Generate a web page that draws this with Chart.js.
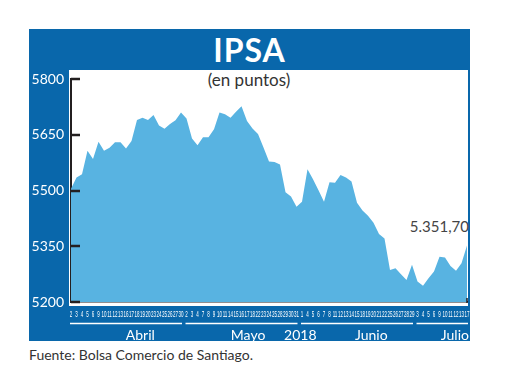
<!DOCTYPE html>
<html>
<head>
<meta charset="utf-8">
<script src="https://cdn.jsdelivr.net/npm/chart.js@4.4.1/dist/chart.umd.min.js"></script>
<style>
body{margin:0;background:#fff;font-family:Lato,"Open Sans",sans-serif}
#wrap{position:relative;width:520px;height:390px;overflow:hidden}
#frame{position:absolute;left:29px;top:29px;width:441px;height:312px;background:#0967ab}
#plot{position:absolute;left:69px;top:70px;width:399px;height:236px;background:#fff}
#title{position:absolute;left:29px;top:29px;width:441px;text-align:center;color:#fff;font-weight:700;font-size:32px;line-height:41px;letter-spacing:1px}
#sub{position:absolute;left:69px;top:69px;width:360px;text-align:center;font-size:17px;color:#333;line-height:22px}
#last{position:absolute;right:51px;top:217px;font-size:15px;color:#444}
#src{position:absolute;left:29px;top:346px;font-size:14px;color:#333}
canvas{position:absolute;left:0;top:0}
</style>
</head>
<body>
<div id="wrap">
  <div id="frame"></div>
  <div id="plot"></div>
  <div id="title">IPSA</div>
  <div id="sub">(en puntos)</div>
  <div id="last"></div>
  <div id="src">Fuente: Bolsa Comercio de Santiago.</div>
  <canvas id="chart" width="520" height="390"></canvas>
</div>
<script>
// trading days, abril - julio 2018
let days = ["2","3","4","5","6","9","10","11","12","13","16","17","18","19","20","23","24","25","26","27","30",
  "2","3","4","7","8","9","10","11","14","15","16","17","18","22","23","24","25","28","29","30","31",
  "1","4","5","6","7","8","11","12","13","14","15","18","19","20","21","22","25","26","27","28","29",
  "3","4","5","6","9","10","11","12","13","17"];

let ipsa = [5505,5535,5544,5607,5585,5631,5607,5615,5630,5630,5613,5633,5690,5696,5690,5703,5675,5666,5679,5689,5710,
  5694,5640,5622,5643,5643,5665,5710,5705,5696,5712,5727,5687,5667,5652,5616,5578,5577,5570,5495,5484,5456,
  5470,5557,5530,5501,5470,5522,5521,5542,5535,5524,5467,5446,5432,5413,5383,5371,5286,5291,5275,5259,5300,
  5255,5244,5264,5282,5322,5320,5297,5284,5304,5351.70];

let yTicks = [5200,5350,5500,5650,5800];
let monthNames = ["Abril","Mayo","2018","Junio","Julio"];
let monthPos = [12.6,32.2,41.7,54.6,69.8];
let monthSpans = [[0,20],[21,41],[42,62],[63,72]];

function formatCL(v){
  let parts = v.toFixed(2).split(".");
  parts[0] = parts[0].replace(/\B(?=(\d{3})+(?!\d))/g, ".");
  return parts.join(",");
}
document.getElementById("last").textContent = formatCL(ipsa[ipsa.length-1]);

// squeeze the tiny day numbers like the print version
let narrowDays = {
  id: "narrowDays",
  beforeDraw(chart){
    let xs = chart.scales.x;
    if (xs._narrow) return;
    xs._narrow = true;
    let orig = xs.drawLabels;
    xs.drawLabels = function(area){
      let ctx = this.ctx;
      let f = ctx.fillText;
      ctx.fillText = function(t, x, y){
        this.save();
        this.translate(x, y);
        this.scale(0.5, 1);
        f.call(this, t, 0, 0);
        this.restore();
      };
      orig.call(this, area);
      ctx.fillText = f;
    };
  }
};

let marks = {
  id: "marks",
  afterDatasetsDraw(chart){
    let ctx = chart.ctx;
    let y = chart.scales.y;
    let x = chart.scales.x;
    let area = chart.chartArea;
    ctx.save();
    ctx.strokeStyle = "#231f20";
    ctx.lineWidth = 2.5;
    for (let v of yTicks){
      let py = Math.round(y.getPixelForValue(v));
      ctx.beginPath();
      ctx.moveTo(area.left, py);
      ctx.lineTo(area.left + 9, py);
      ctx.stroke();
    }
    ctx.lineWidth = 1.5;
    ctx.beginPath();
    ctx.moveTo(area.right, area.bottom - 4);
    ctx.lineTo(area.right, area.bottom + 1);
    ctx.stroke();
    // month underlines
    ctx.strokeStyle = "#ffffff";
    ctx.lineWidth = 1.5;
    for (let s of monthSpans){
      ctx.beginPath();
      ctx.moveTo(x.getPixelForValue(s[0]) - 1, 323.5);
      ctx.lineTo(x.getPixelForValue(s[1]) + 1, 323.5);
      ctx.stroke();
    }
    ctx.restore();
  }
};

new Chart(document.getElementById("chart"), {
  type: "line",
  data: {
    labels: days,
    datasets: [{
      data: ipsa,
      fill: "start",
      backgroundColor: "#58b3e1",
      borderWidth: 0,
      pointRadius: 0,
      tension: 0
    }]
  },
  options: {
    responsive: false,
    animation: false,
    layout: {padding: {left: 0, top: 79, right: 53, bottom: 48}},
    plugins: {legend: {display: false}, tooltip: {enabled: false}},
    scales: {
      y: {
        min: 5200,
        max: 5800,
        afterBuildTicks: s => { s.ticks = yTicks.map(v => ({value: v})); },
        afterFit: s => { s.width = 71; },
        grid: {display: false, drawTicks: false},
        border: {display: true, color: "#231f20", width: 2},
        ticks: {color: "#ffffff", padding: 7, font: {family: "Lato", size: 14},
          callback: v => String(v)}
      },
      x: {
        weight: 0,
        afterFit: s => { s.height = 20; },
        grid: {display: false, drawTicks: false},
        border: {display: true, color: "#231f20", width: 1.5},
        ticks: {color: "#ffffff", padding: 7, autoSkip: false, maxRotation: 0,
          font: {family: "Liberation Sans", size: 9}}
      },
      x2: {
        type: "linear",
        position: "bottom",
        weight: 1,
        min: 0,
        max: 72,
        afterBuildTicks: s => { s.ticks = monthPos.map(v => ({value: v})); },
        afterFit: s => { s.height = 20; },
        grid: {display: false, drawTicks: false},
        border: {display: false},
        ticks: {color: "#ffffff", padding: 5, autoSkip: false, maxRotation: 0,
          font: {family: "Lato", size: 14},
          callback: (v, i) => monthNames[i]}
      }
    }
  },
  plugins: [narrowDays, marks]
});
</script>
</body>
</html>
